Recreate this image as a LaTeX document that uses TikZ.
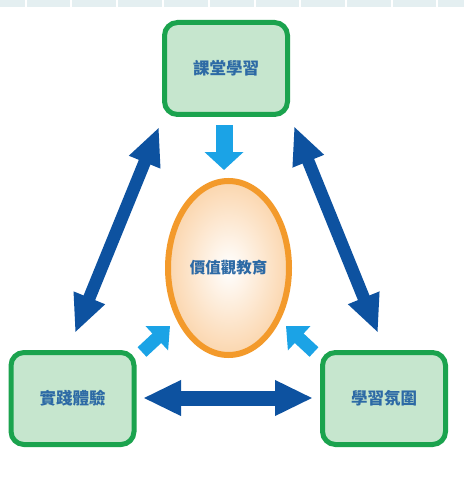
\documentclass[tikz,border=0pt]{standalone}
\usepackage{fontspec}
\newfontfamily\cjk{Noto Sans CJK TC}
\usetikzlibrary{arrows.meta,shapes.geometric}
\definecolor{boxgreen}{HTML}{1BA34E}
\definecolor{boxfill}{HTML}{C6E6CE}
\definecolor{darkblue}{HTML}{0D52A0}
\definecolor{lightblue}{HTML}{1BA3E6}
\definecolor{ringorange}{HTML}{F39A2B}
\definecolor{peach}{HTML}{FBD6AE}
\definecolor{txtblue}{HTML}{2D6AA5}
\definecolor{strip}{HTML}{E4EFF1}
\tikzset{
  box/.style={draw=boxgreen, line width=5pt, fill=boxfill, rounded corners=13pt,
    minimum width=123pt, minimum height=92pt, text=txtblue,
    font=\cjk\bfseries\fontsize{16.5}{19}\selectfont},
  centre/.style={ellipse, draw=ringorange, line width=6pt, inner color=white, outer color=peach,
    minimum width=121pt, minimum height=174pt, text=txtblue,
    font=\cjk\bfseries\fontsize{15.5}{18}\selectfont},
  bigarrow/.style={draw=darkblue, line width=12.5pt,
    {Triangle[length=38pt,width=31pt]}-{Triangle[length=38pt,width=31pt]}},
  smallarrow/.style={draw=lightblue, line width=13pt, -{Triangle[length=18pt,width=32pt]}},
  downarrow/.style={draw=lightblue, line width=17pt, -{Triangle[length=18pt,width=38pt]}}
}
\begin{document}
\begin{tikzpicture}[x=1pt,y=-1pt]
\fill[white] (0,0) rectangle (464,484);
\useasboundingbox (0,0) rectangle (464,484);
% top strip
\foreach \a/\b in {0/25,27/70,72/116,118/162,164/208,210/254,256/299,301/345,347/391,393/436,438/464}
  \fill[strip] (\a,0) rectangle (\b,7);
% nodes
\node[box] (klass) at (226,68.5) {課堂學習};
\node[box] (prac) at (72.5,398.5) {實踐體驗};
\node[box] (atmo) at (384,398.5) {學習氛圍};
\node[centre] (core) at (228.5,268) {價值觀教育};
% connector end points
\coordinate (lt) at (159,127);
\coordinate (lb) at (75,333);
\coordinate (rt) at (294,126);
\coordinate (rb) at (378,333);
\coordinate (hl) at (143,398);
\coordinate (hr) at (313,398);
\coordinate (dt) at (224,125);
\coordinate (db) at (224,170);
\coordinate (sl1) at (142,352);
\coordinate (sl2) at (170,326);
\coordinate (sr1) at (314,352);
\coordinate (sr2) at (286,326);
% arrows
\draw[bigarrow] (lt) -- (lb);
\draw[bigarrow] (rt) -- (rb);
\draw[bigarrow, line width=15pt, {Triangle[length=38pt,width=33pt]}-{Triangle[length=38pt,width=33pt]}] (hl) -- (hr);
\draw[downarrow] (dt) -- (db);
\draw[smallarrow] (sl1) -- (sl2);
\draw[smallarrow] (sr1) -- (sr2);
\end{tikzpicture}
\end{document}
